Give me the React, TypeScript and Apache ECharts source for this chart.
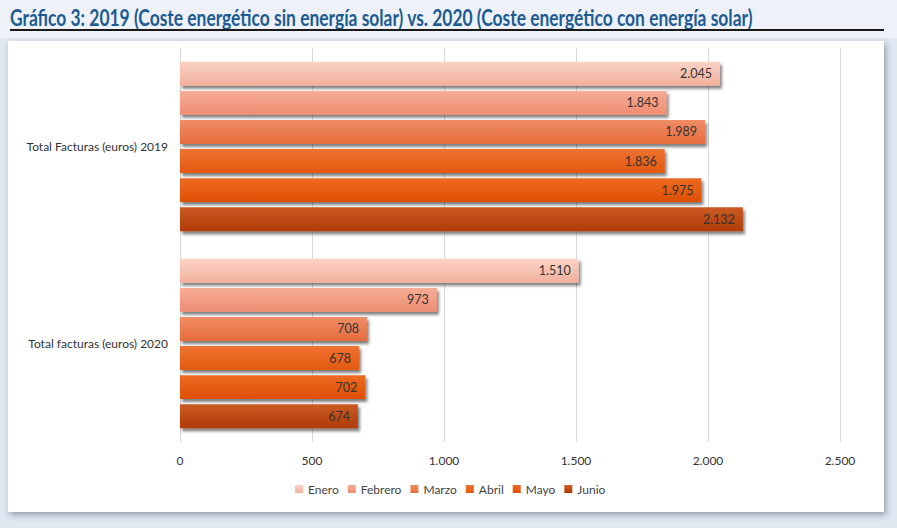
import React, { useEffect, useRef } from "react";
import * as echarts from "echarts";

const categories = ["Total Facturas (euros) 2019", "Total facturas (euros) 2020"];
const months = ["Enero", "Febrero", "Marzo", "Abril", "Mayo", "Junio"];
const enero = [2045, 1510];
const febrero = [1843, 973];
const marzo = [1989, 708];
const abril = [1836, 678];
const mayo = [1975, 702];
const junio = [2132, 674];
const seriesValues = [enero, febrero, marzo, abril, mayo, junio];

// top / bottom shades of each month's bar
const monthColors: [string, string][] = [
  ["#fad3c7", "#f3b09c"],
  ["#f6ac96", "#ee8d72"],
  ["#f08d66", "#e76c3c"],
  ["#ee7232", "#e2590e"],
  ["#ec6a24", "#df4f00"],
  ["#cb5a24", "#b03b07"],
];

const fontMain = "Lato, 'Open Sans', sans-serif";
const titleText =
  "Gráfico 3: 2019 (Coste energético sin energía solar) vs. 2020 (Coste energético con energía solar)";
const titleFont = "bold 22px Lato, 'Open Sans', sans-serif";

const formatEs = (v: number) =>
  String(v).replace(/\B(?=(\d{3})+(?!\d))/g, ".");

const App: React.FC = () => {
  const chartRef = useRef<HTMLDivElement>(null);

  useEffect(() => {
    if (!chartRef.current) return;
    const chart = echarts.init(chartRef.current, undefined, { renderer: "svg" });

    // squeeze the title to the width it takes in the original (narrow font there)
    let titleScale = 0.78;
    const ctx = document.createElement("canvas").getContext("2d");
    if (ctx) {
      ctx.font = titleFont;
      const w = ctx.measureText(titleText).width;
      if (w > 0) titleScale = 743 / w;
    }

    const option = {
      animation: false,
      backgroundColor: "#dfe7f1",
      textStyle: { fontFamily: fontMain },
      graphic: [
        {
          type: "rect",
          z: -20,
          shape: { x: 0, y: 0, width: 897, height: 38 },
          style: { fill: "#eef2f8" },
        },
        {
          type: "rect",
          z: -10,
          shape: { x: 8, y: 41, width: 876, height: 471 },
          style: {
            fill: "#ffffff",
            shadowColor: "rgba(60,70,90,0.45)",
            shadowBlur: 6,
            shadowOffsetX: 2,
            shadowOffsetY: 3,
          },
        },
        {
          type: "text",
          x: 10,
          y: 17,
          scaleX: titleScale,
          style: {
            text: titleText,
            fill: "#1d5b94",
            font: titleFont,
            verticalAlign: "middle",
          },
        },
        {
          type: "line",
          shape: { x1: 10, y1: 30, x2: 884, y2: 30 },
          style: { stroke: "#1a1a1a", lineWidth: 2 },
        },
      ],
      grid: { left: 180, right: 57, top: 48, bottom: 86 },
      legend: {
        data: months,
        top: 478,
        left: 290,
        itemWidth: 8,
        itemHeight: 8,
        itemGap: 9,
        icon: "rect",
        textStyle: { color: "#444", fontSize: 12, fontFamily: fontMain },
      },
      xAxis: {
        type: "value",
        min: 0,
        max: 2500,
        interval: 500,
        axisLine: { show: false },
        axisTick: { show: false },
        splitLine: { lineStyle: { color: "#d9d9d9" } },
        axisLabel: {
          color: "#333",
          fontSize: 12,
          margin: 12,
          formatter: (v: number) => formatEs(v),
        },
      },
      yAxis: {
        type: "category",
        data: categories,
        inverse: true,
        axisLine: { show: true, lineStyle: { color: "#d9d9d9" } },
        axisTick: { show: false },
        axisLabel: { color: "#333", fontSize: 12, margin: 12 },
      },
      series: months.map((m, i) => ({
        name: m,
        type: "bar",
        data: seriesValues[i],
        barCategoryGap: "14%",
        barGap: "22%",
        itemStyle: {
          color: new echarts.graphic.LinearGradient(0, 0, 0, 1, [
            { offset: 0, color: monthColors[i][0] },
            { offset: 1, color: monthColors[i][1] },
          ]),
          shadowColor: "rgba(0,0,0,0.5)",
          shadowBlur: 3,
          shadowOffsetX: 2,
          shadowOffsetY: 3,
        },
        label: {
          show: true,
          position: "insideRight",
          color: "#333",
          fontSize: 12.5,
          distance: 8,
          formatter: (p: any) => formatEs(p.value),
        },
      })),
    };

    chart.setOption(option);
    return () => chart.dispose();
  }, []);

  return (
    <div
      ref={chartRef}
      style={{ position: "fixed", left: 0, top: 0, width: 897, height: 528 }}
    />
  );
};

export default App;
